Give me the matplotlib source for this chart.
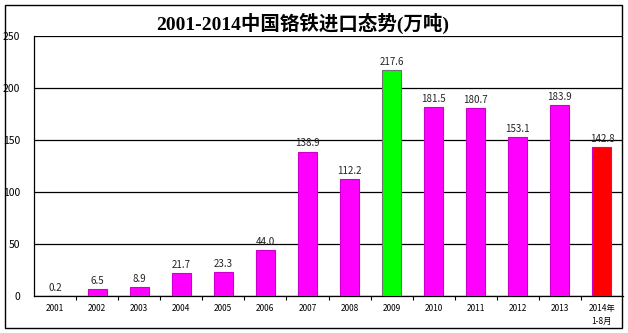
import matplotlib
matplotlib.use("Agg")
import matplotlib.pyplot as plt
from matplotlib.patches import Rectangle

plt.rcParams['font.family'] = ['Noto Sans CJK SC', 'DejaVu Sans']

categories = ["2001", "2002", "2003", "2004", "2005", "2006", "2007",
              "2008", "2009", "2010", "2011", "2012", "2013", "2014年\n1-8月"]
values = [0.2, 6.5, 8.9, 21.7, 23.3, 44.0, 138.9, 112.2, 217.6, 181.5,
          180.7, 153.1, 183.9, 142.8]
labels = ["0.2", "6.5", "8.9", "21.7", "23.3", "44.0", "138.9", "112.2",
          "217.6", "181.5", "180.7", "153.1", "183.9", "142.8"]
title = "2001-2014中国铬铁进口态势(万吨)"

colors = ["#FF00FF"] * len(values)
edges = ["#CC00CC"] * len(values)
colors[8] = "#00FF00"; edges[8] = "#707070"
colors[13] = "#FF0000"; edges[13] = "#CC00CC"

fig = plt.figure(figsize=(6.28, 3.33), dpi=100)
fig.patches.append(Rectangle((5/628, 1 - 328/333), 617/628, 323/333,
                             transform=fig.transFigure, fill=False,
                             edgecolor="black", linewidth=1.0))

ax = fig.add_axes([34/628, 37/333, 589/628, 260/333])
x = list(range(len(values)))
ax.bar(x, values, width=0.45, color=colors, edgecolor=edges, linewidth=0.8, zorder=3)
ax.set_xlim(-0.5, len(values) - 0.5)
ax.set_ylim(0, 250)
ax.set_yticks([0, 50, 100, 150, 200, 250])
ax.yaxis.grid(True, color="black", linewidth=0.9, zorder=0)
ax.set_axisbelow(True)
for s in ["top", "right"]:
    ax.spines[s].set_visible(False)
ax.spines["left"].set_linewidth(0.9)
ax.spines["bottom"].set_linewidth(0.9)
ax.tick_params(axis="y", length=0, labelsize=7.5, pad=10)
ax.set_xticks(x)
ax.set_xticklabels(categories, fontsize=6, linespacing=1.5)
ax.tick_params(axis="x", length=0, pad=6)
ax.set_xticks([i + 0.5 for i in x[:-1]], minor=True)
ax.tick_params(axis="x", which="minor", length=3, width=0.8, direction="out")
for lab in ax.get_xticklabels():
    lab.set_verticalalignment("top")

for xi, v, t in zip(x, values, labels):
    ax.text(xi, v + 3, t, ha="center", va="bottom", fontsize=7,
            color="#222222", zorder=4)

fig.text(303/628, 1 - 23/333, title, ha="center", va="center",
         fontsize=14, fontweight="bold",
         family=['Liberation Serif', 'Noto Sans CJK SC'])

fig.savefig("out.png", dpi=100)
